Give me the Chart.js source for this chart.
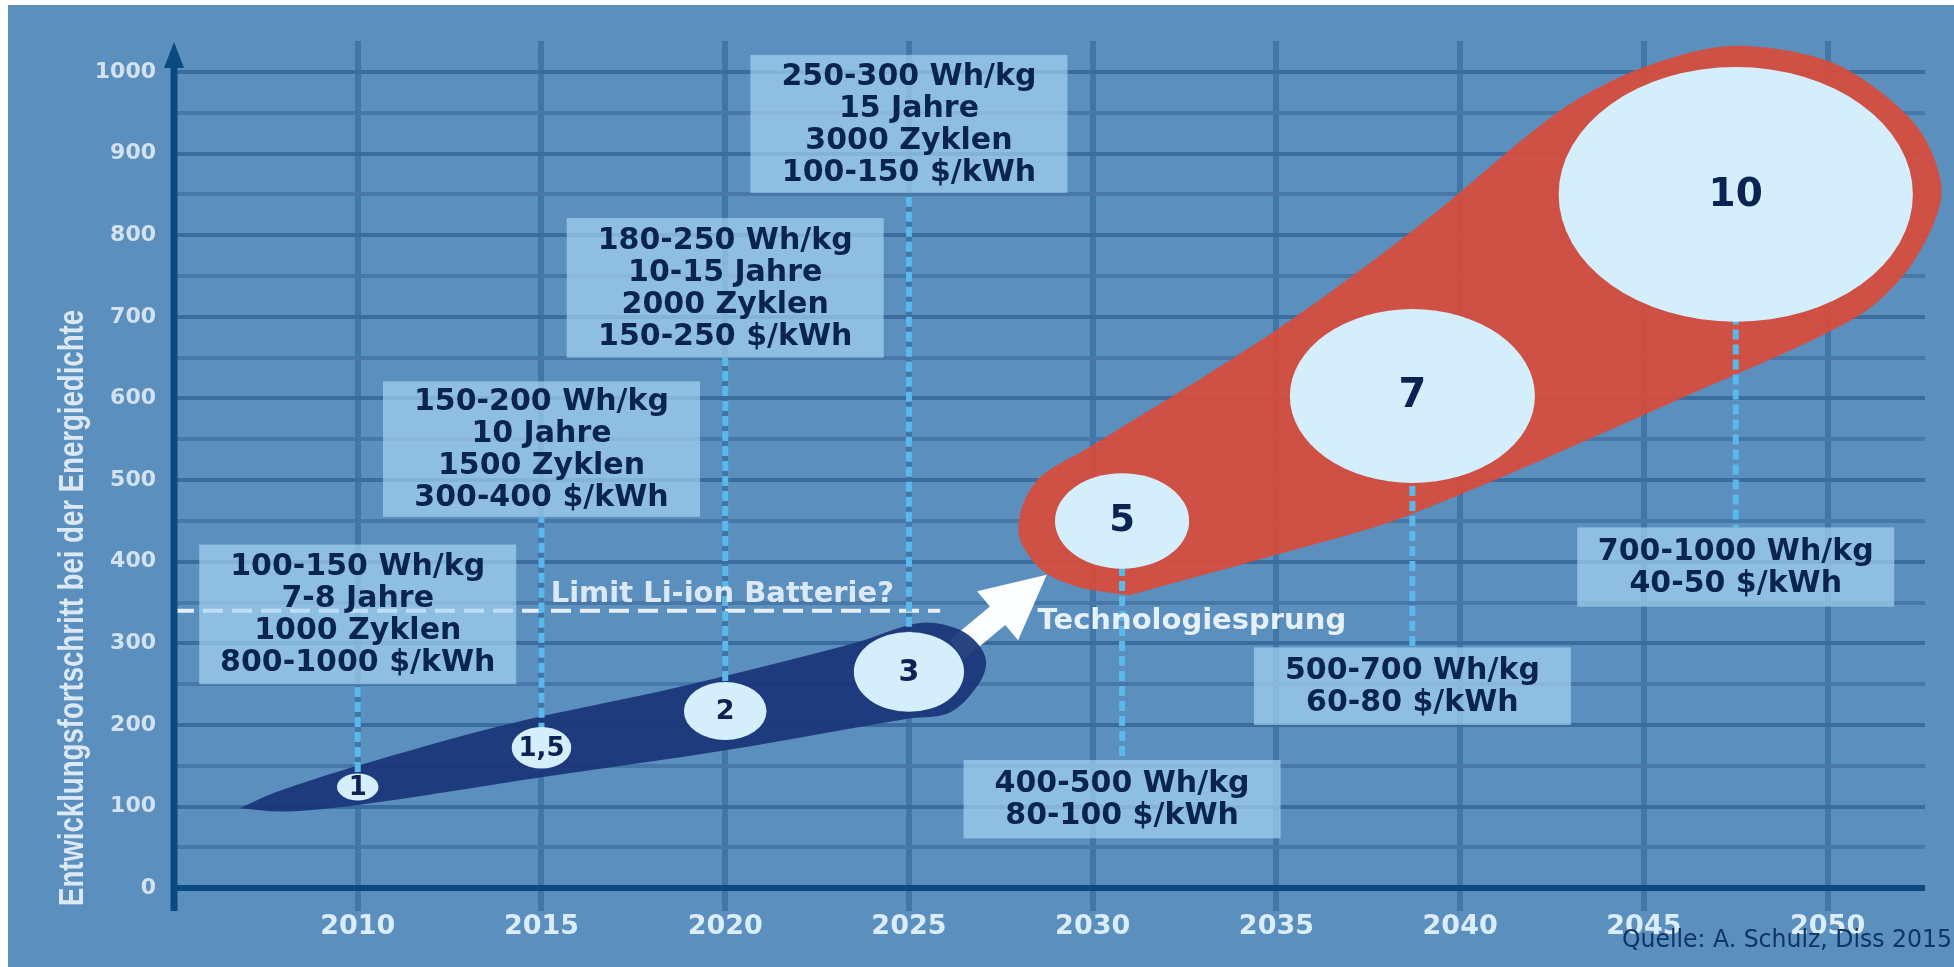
<!DOCTYPE html>
<html>
<head>
<meta charset="utf-8">
<title>Entwicklungsfortschritt Batterien</title>
<script src="https://cdn.jsdelivr.net/npm/chart.js@4.4.1/dist/chart.umd.min.js"></script>
<style>
  html, body { margin: 0; padding: 0; background: #fff; }
  #wrap { position: relative; width: 1954px; height: 967px; }
</style>
</head>
<body>
<div id="wrap"><canvas id="roadmapChart"></canvas></div>
<script>
// axis ranges and ticks
const yearRange = [2005, 2052.65];
const valueRange = [-28, 1038];
const yearTicks = [2010, 2015, 2020, 2025, 2030, 2035, 2040, 2045, 2050];
const valueTicks = [0, 50, 100, 150, 200, 250, 300, 350, 400, 450, 500, 550, 600, 650, 700, 750, 800, 850, 900, 950, 1000];

// battery stages: position and extent of each bubble
const stageYears = [2010, 2015, 2020, 2025, 2030.8, 2038.7, 2047.5];
const stageValues = [124, 172, 217, 265, 450, 603, 850];
const stageLabels = ['1', '1,5', '2', '3', '5', '7', '10'];
const stageSpanYears = [1.13, 1.62, 2.25, 3.0, 3.65, 6.67, 9.64];
const stageSpanValues = [33, 51, 71, 98, 117, 213, 312];

// info boxes per stage
const infoTexts = [
    ['100-150 Wh/kg', '7-8 Jahre', '1000 Zyklen', '800-1000 $/kWh'],
    ['150-200 Wh/kg', '10 Jahre', '1500 Zyklen', '300-400 $/kWh'],
    ['180-250 Wh/kg', '10-15 Jahre', '2000 Zyklen', '150-250 $/kWh'],
    ['250-300 Wh/kg', '15 Jahre', '3000 Zyklen', '100-150 $/kWh'],
    ['400-500 Wh/kg', '80-100 $/kWh'],
    ['500-700 Wh/kg', '60-80 $/kWh'],
    ['700-1000 Wh/kg', '40-50 $/kWh']
];
const infoTop = [421, 621, 821, 1021, 157, 295, 442];
const infoBottom = [250, 455, 650, 852, 61, 200, 345];

// Li-ion band (blue) outline
const liIonYears = [2006.8, 2007.8, 2010, 2014, 2018.8, 2023.5, 2025.3, 2026.3, 2026.9, 2027.1, 2026.85, 2026.1, 2025, 2020, 2015, 2010, 2008, 2006.8];
const liIonValues = [98, 118, 150, 200, 247, 300, 325, 318, 298, 275, 247, 215, 208, 169, 136, 102, 94, 98];

// post Li-ion band (red) outline
const postLiYears = [2031.0, 2029.6, 2028.6, 2028.0, 2028.1, 2028.6, 2029.9, 2035.0, 2039.0, 2042.7, 2045.0, 2047.4, 2050.2, 2052.4, 2053.1, 2052.3, 2050.8, 2046.0, 2038.6, 2034.8, 2031.0];
const postLiValues = [359, 369, 390, 430, 470, 505, 540, 684, 816, 952, 1006, 1032, 1010, 935, 852, 765, 700, 600, 457, 406, 359];

// limit line and technology jump arrow
const limitYears = [2005, 2025.85];
const limitValue = 340;
const jumpYears = [2026.3, 2028.75];
const jumpValues = [292, 384];

const axisTitle = 'Entwicklungsfortschritt bei der Energiedichte';
const sourceText = 'Quelle: A. Schulz, Diss 2015';

const bubbleFontSizes = [26, 26, 27, 30, 37, 40, 39];
const boxWidth = 317;
const fontFamily = "'DejaVu Sans', 'Verdana', sans-serif";
const overhang = 40; // red band runs a bit past the end of the axis

function toPoints(xs, ys) {
    return xs.map((x, i) => ({ x: x, y: ys[i] }));
}

let connectorSets = stageYears.map((yr, i) => {
    const end = infoTop[i] < stageValues[i] ? infoTop[i] : infoBottom[i];
    return {
        label: 'Verbindung ' + stageLabels[i],
        data: [{ x: yr, y: stageValues[i] }, { x: yr, y: end }],
        borderColor: '#5bb8ea',
        borderWidth: 6,
        borderDash: [10, 5],
        pointRadius: 0,
        fill: false,
        tension: 0,
        order: 1
    };
});

const decorPlugin = {
    id: 'decor',
    beforeDraw(chart) {
        const ctx = chart.ctx;
        ctx.save();
        ctx.fillStyle = '#ffffff';
        ctx.fillRect(0, 0, chart.width, chart.height);
        ctx.fillStyle = '#5a8fbe';
        ctx.fillRect(8, 5, chart.width - 8, chart.height - 5);
        ctx.restore();
    },
    beforeDatasetsDraw(chart) {
        chart.chartArea.right += overhang;

        // white arrow, tail hidden under the blue band
        const ctx = chart.ctx;
        const xs = chart.scales.x, ys = chart.scales.y;
        const x0 = xs.getPixelForValue(jumpYears[0]), y0 = ys.getPixelForValue(jumpValues[0]);
        const x1 = xs.getPixelForValue(jumpYears[1]), y1 = ys.getPixelForValue(jumpValues[1]);
        const len = Math.hypot(x1 - x0, y1 - y0);
        const ux = (x1 - x0) / len, uy = (y1 - y0) / len;
        const nx = -uy, ny = ux;
        const headLen = 64, headHalf = 32, shaftHalf = 12;
        const hx = x1 - ux * headLen, hy = y1 - uy * headLen;
        ctx.save();
        ctx.fillStyle = '#fbfdff';
        ctx.beginPath();
        ctx.moveTo(x0 + nx * shaftHalf, y0 + ny * shaftHalf);
        ctx.lineTo(hx + nx * shaftHalf, hy + ny * shaftHalf);
        ctx.lineTo(hx + nx * headHalf, hy + ny * headHalf);
        ctx.lineTo(x1, y1);
        ctx.lineTo(hx - nx * headHalf, hy - ny * headHalf);
        ctx.lineTo(hx - nx * shaftHalf, hy - ny * shaftHalf);
        ctx.lineTo(x0 - nx * shaftHalf, y0 - ny * shaftHalf);
        ctx.closePath();
        ctx.fill();
        ctx.restore();
    },
    afterDatasetsDraw(chart) {
        chart.chartArea.right -= overhang;

        const ctx = chart.ctx;
        const xs = chart.scales.x, ys = chart.scales.y;
        const area = chart.chartArea;
        ctx.save();

        // bubbles
        stageYears.forEach((yr, i) => {
            const cx = xs.getPixelForValue(yr);
            const cy = ys.getPixelForValue(stageValues[i]);
            const rx = Math.abs(xs.getPixelForValue(yr + stageSpanYears[i] / 2) - cx);
            const ry = Math.abs(ys.getPixelForValue(stageValues[i] + stageSpanValues[i] / 2) - cy);
            ctx.beginPath();
            ctx.ellipse(cx, cy, rx, ry, 0, 0, Math.PI * 2);
            ctx.fillStyle = '#d4eefb';
            ctx.fill();
            ctx.fillStyle = '#0b2352';
            ctx.font = 'bold ' + bubbleFontSizes[i] + 'px ' + fontFamily;
            ctx.textAlign = 'center';
            ctx.textBaseline = 'middle';
            ctx.fillText(stageLabels[i], cx, cy + 1);
        });

        // info boxes
        infoTexts.forEach((lines, i) => {
            const cx = xs.getPixelForValue(stageYears[i]);
            const top = ys.getPixelForValue(infoTop[i]);
            const bottom = ys.getPixelForValue(infoBottom[i]);
            ctx.fillStyle = 'rgba(170, 215, 245, 0.66)';
            ctx.fillRect(cx - boxWidth / 2, top, boxWidth, bottom - top);
            ctx.fillStyle = '#0a2452';
            ctx.font = 'bold 30px ' + fontFamily;
            ctx.textAlign = 'center';
            ctx.textBaseline = 'middle';
            const lh = 32;
            const mid = (top + bottom) / 2;
            lines.forEach((t, j) => {
                ctx.fillText(t, cx, mid + (j - (lines.length - 1) / 2) * lh + 1);
            });
        });

        // annotations
        ctx.textAlign = 'left';
        ctx.textBaseline = 'alphabetic';
        ctx.font = 'bold 29px ' + fontFamily;
        ctx.fillStyle = '#dbe8f5';
        ctx.fillText('Limit Li-ion Batterie?', xs.getPixelForValue(2015.25), ys.getPixelForValue(limitValue) - 9);
        ctx.fillStyle = '#e6f0f9';
        ctx.fillText('Technologiesprung', xs.getPixelForValue(2028.5), ys.getPixelForValue(317));

        // y axis with arrow head
        ctx.strokeStyle = '#0a4b7e';
        ctx.lineWidth = 7;
        ctx.beginPath();
        ctx.moveTo(area.left, area.bottom);
        ctx.lineTo(area.left, area.top + 20);
        ctx.stroke();
        ctx.fillStyle = '#0a4b7e';
        ctx.beginPath();
        ctx.moveTo(area.left, area.top + 1);
        ctx.lineTo(area.left + 10, area.top + 27);
        ctx.lineTo(area.left - 10, area.top + 27);
        ctx.closePath();
        ctx.fill();

        // axis title
        ctx.save();
        ctx.translate(83, 608);
        ctx.rotate(-Math.PI / 2);
        ctx.font = "bold 35px 'Liberation Sans Narrow', 'Liberation Sans', sans-serif";
        const tw = ctx.measureText(axisTitle).width;
        ctx.scale(596 / tw, 1);
        ctx.textAlign = 'center';
        ctx.textBaseline = 'alphabetic';
        ctx.fillStyle = '#dce9f5';
        ctx.fillText(axisTitle, 0, 0);
        ctx.restore();

        // source
        ctx.save();
        ctx.font = '25px ' + fontFamily;
        const sw = ctx.measureText(sourceText).width;
        ctx.translate(1952, 947);
        ctx.scale(330 / sw, 1);
        ctx.textAlign = 'right';
        ctx.textBaseline = 'alphabetic';
        ctx.fillStyle = '#0f3566';
        ctx.fillText(sourceText, 0, 0);
        ctx.restore();

        ctx.restore();
    }
};

const chart = new Chart(document.getElementById('roadmapChart'), {
    type: 'line',
    data: {
        datasets: [
            {
                label: 'Li-ion',
                data: toPoints(liIonYears, liIonValues),
                backgroundColor: 'rgba(26, 53, 119, 0.93)',
                borderWidth: 0,
                fill: 'shape',
                tension: 0.35,
                pointRadius: 0,
                clip: false,
                order: 3
            },
            {
                label: 'Post Li-ion',
                data: toPoints(postLiYears, postLiValues),
                backgroundColor: 'rgba(216, 76, 60, 0.93)',
                borderWidth: 0,
                fill: 'shape',
                tension: 0.3,
                pointRadius: 0,
                clip: false,
                order: 3
            },
            {
                label: 'Limit',
                data: limitYears.map(x => ({ x: x, y: limitValue })),
                borderColor: 'rgba(238, 243, 251, 0.95)',
                borderWidth: 4,
                borderDash: [20, 9],
                pointRadius: 0,
                fill: false,
                order: 2
            },
            ...connectorSets
        ]
    },
    options: {
        responsive: true,
        maintainAspectRatio: false,
        animation: false,
        events: [],
        layout: { padding: { top: 41, right: 29, left: 0, bottom: 0 } },
        elements: { line: { capBezierPoints: false } },
        plugins: {
            legend: { display: false },
            tooltip: { enabled: false }
        },
        scales: {
            x: {
                type: 'linear',
                min: yearRange[0],
                max: yearRange[1],
                border: { display: false },
                grid: {
                    drawTicks: false,
                    color: 'rgba(45, 98, 150, 0.55)',
                    lineWidth: 6
                },
                ticks: {
                    autoSkip: false,
                    maxRotation: 0,
                    padding: 0,
                    color: '#dcedfa',
                    font: { family: fontFamily, size: 27, weight: 'bold' },
                    callback: (v) => String(v)
                },
                afterBuildTicks: (scale) => {
                    scale.ticks = yearTicks.map(v => ({ value: v }));
                },
                afterFit: (scale) => { scale.height = 56; }
            },
            y: {
                type: 'linear',
                min: valueRange[0],
                max: valueRange[1],
                border: { display: false },
                grid: {
                    drawTicks: false,
                    color: (c) => {
                        if (!c.tick) return 'rgba(0,0,0,0)';
                        const v = c.tick.value;
                        if (v === 0) return '#0a4b7e';
                        return v % 100 === 0 ? '#3a6c9d' : '#4778a8';
                    },
                    lineWidth: (c) => (c.tick && c.tick.value === 0) ? 6 : 4
                },
                ticks: {
                    autoSkip: false,
                    padding: 18,
                    color: '#d4e2ef',
                    font: { family: fontFamily, size: 22, weight: 'bold' },
                    callback: (v) => (v % 100 === 0) ? String(v) : ''
                },
                afterBuildTicks: (scale) => {
                    scale.ticks = valueTicks.map(v => ({ value: v }));
                },
                afterFit: (scale) => { scale.width = 174; }
            }
        }
    },
    plugins: [decorPlugin]
});
</script>
</body>
</html>
